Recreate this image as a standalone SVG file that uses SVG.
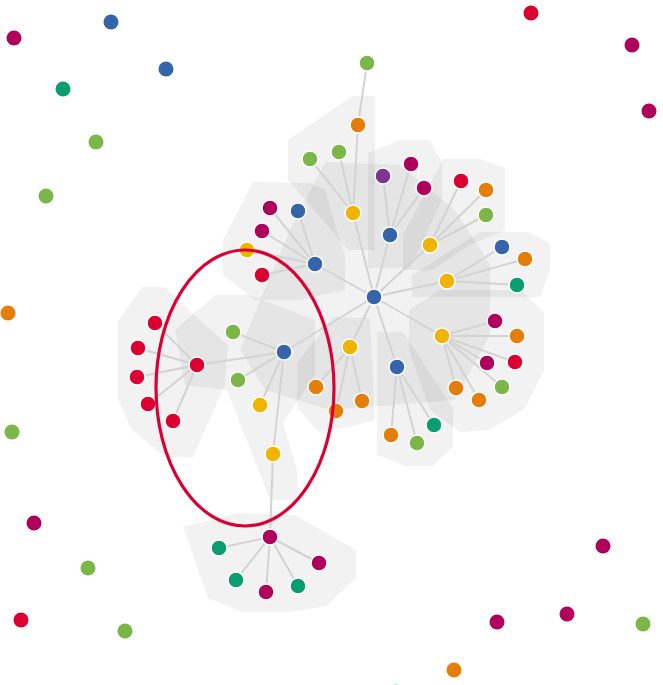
<svg xmlns="http://www.w3.org/2000/svg" width="663" height="685" viewBox="0 0 663 685">
<style>
.hull{fill:#000;fill-opacity:0.05;stroke:none}
.e{stroke:#d3d3d3;stroke-width:2;fill:none}
.n{stroke:#fff;stroke-width:1.5}
.s{stroke:none}
.R{fill:#dc0032}.M{fill:#af005c}.B{fill:#3465aa}.G{fill:#7ab648}.T{fill:#0a9e6e}.O{fill:#e57d0a}.Y{fill:#f0b400}.P{fill:#7d3591}
</style>
<rect width="663" height="685" fill="#fff"/>
<g id="hulls">
<polygon class="hull" points="325,162 400,165 455,210 490,265 490,335 455,400 330,410 265,390 240,350 260,300 290,230"/>
<polygon class="hull" points="288,140 352,96 375,96 375,250 348,250 288,180"/>
<polygon class="hull" points="368,153 400,140 430,140 442,162 442,200 410,268 368,268"/>
<polygon class="hull" points="443,159 480,159 505,168 505,230 470,245 432,270 403,270 403,235"/>
<polygon class="hull" points="412,275 480,232 528,232 550,243 550,270 540,297 412,297"/>
<polygon class="hull" points="223,240 253,182 310,183 325,190 345,257 345,290 300,300 255,300 223,275"/>
<polygon class="hull" points="215,295 250,295 315,320 315,375 283,423 297,470 297,500 270,500 227,390 185,385 175,330"/>
<polygon class="hull" points="118,322 142,287 165,287 200,320 228,345 225,385 193,457 165,457 132,430 118,400"/>
<polygon class="hull" points="297,363 333,317 370,318 375,420 350,427 318,432 297,407"/>
<polygon class="hull" points="377,332 403,332 453,408 453,447 433,466 405,466 377,455"/>
<polygon class="hull" points="409,310 440,290 520,290 544,312 544,370 525,408 490,430 460,432 430,410 409,350"/>
<polygon class="hull" points="183,527 237,513 295,515 356,550 356,578 326,606 290,612 242,612 208,598"/>
</g>
<g id="connectors">
<path class="e" d="M374,297L353,213M353,213L358,125M358,125L367,63M353,213L310,159M353,213L339,152"/>
<path class="e" d="M374,297L390,235M390,235L383,176M390,235L411,164M390,235L424,188"/>
<path class="e" d="M374,297L430,245M430,245L461,181M430,245L486,190M430,245L486,215"/>
<path class="e" d="M374,297L447,281M447,281L502,247M447,281L525,259M447,281L517,285"/>
<path class="e" d="M374,297L315,264M315,264L270,208M315,264L298,211M315,264L262,231M315,264L247,250M315,264L262,275"/>
<path class="e" d="M374,297L284,352M284,352L233,332M284,352L238,380M284,352L260,405M284,352L273,454M273,454L270,537"/>
<path class="e" d="M270,537L219,548M270,537L236,580M270,537L266,592M270,537L298,586M270,537L319,563"/>
<path class="e" d="M284,352L197,365M197,365L155,323M197,365L138,348M197,365L137,377M197,365L148,404M197,365L173,421"/>
<path class="e" d="M374,297L350,347M350,347L316,387M350,347L336,411M350,347L362,401"/>
<path class="e" d="M374,297L397,367M397,367L391,435M397,367L417,443M397,367L434,425"/>
<path class="e" d="M374,297L442,336M442,336L495,321M442,336L517,336M442,336L487,363M442,336L515,362M442,336L502,387M442,336L456,388M442,336L479,400"/>
</g>
<g id="scattered">
<circle class="s M" cx="14" cy="38" r="7.5"/>
<circle class="s B" cx="111" cy="22" r="7.5"/>
<circle class="s B" cx="166" cy="69" r="7.5"/>
<circle class="s T" cx="63" cy="89" r="7.5"/>
<circle class="s G" cx="96" cy="142" r="7.5"/>
<circle class="s G" cx="46" cy="196" r="7.5"/>
<circle class="s O" cx="8" cy="313" r="7.5"/>
<circle class="s G" cx="12" cy="432" r="7.5"/>
<circle class="s M" cx="34" cy="523" r="7.5"/>
<circle class="s G" cx="88" cy="568" r="7.5"/>
<circle class="s R" cx="21" cy="620" r="7.5"/>
<circle class="s G" cx="125" cy="631" r="7.5"/>
<circle class="s R" cx="531" cy="13" r="7.5"/>
<circle class="s M" cx="632" cy="45" r="7.5"/>
<circle class="s M" cx="649" cy="111" r="7.5"/>
<circle class="s M" cx="603" cy="546" r="7.5"/>
<circle class="s M" cx="567" cy="614" r="7.5"/>
<circle class="s M" cx="497" cy="622" r="7.5"/>
<circle class="s G" cx="643" cy="624" r="7.5"/>
<circle class="s O" cx="454" cy="670" r="7.5"/>
<circle class="s G" cx="396" cy="692" r="7.5"/>
</g>
<g id="nodes">
<g id="hub"><circle class="n B" cx="374" cy="297" r="8"/></g>
<g id="y1"><circle class="n Y" cx="353" cy="213" r="8"/></g>
<g id="o1"><circle class="n O" cx="358" cy="125" r="8"/></g>
<g id="g1"><circle class="n G" cx="367" cy="63" r="8"/></g>
<g id="g2"><circle class="n G" cx="310" cy="159" r="8"/></g>
<g id="g3"><circle class="n G" cx="339" cy="152" r="8"/></g>
<g id="b1"><circle class="n B" cx="390" cy="235" r="8"/></g>
<g id="p1"><circle class="n P" cx="383" cy="176" r="8"/></g>
<g id="m1"><circle class="n M" cx="411" cy="164" r="8"/></g>
<g id="m2"><circle class="n M" cx="424" cy="188" r="8"/></g>
<g id="y2"><circle class="n Y" cx="430" cy="245" r="8"/></g>
<g id="r1"><circle class="n R" cx="461" cy="181" r="8"/></g>
<g id="o2"><circle class="n O" cx="486" cy="190" r="8"/></g>
<g id="g4"><circle class="n G" cx="486" cy="215" r="8"/></g>
<g id="y3"><circle class="n Y" cx="447" cy="281" r="8"/></g>
<g id="b2"><circle class="n B" cx="502" cy="247" r="8"/></g>
<g id="o3"><circle class="n O" cx="525" cy="259" r="8"/></g>
<g id="t1"><circle class="n T" cx="517" cy="285" r="8"/></g>
<g id="b3"><circle class="n B" cx="315" cy="264" r="8"/></g>
<g id="m3"><circle class="n M" cx="270" cy="208" r="8"/></g>
<g id="b4"><circle class="n B" cx="298" cy="211" r="8"/></g>
<g id="m4"><circle class="n M" cx="262" cy="231" r="8"/></g>
<g id="y4"><circle class="n Y" cx="247" cy="250" r="8"/></g>
<g id="r2"><circle class="n R" cx="262" cy="275" r="8"/></g>
<g id="b5"><circle class="n B" cx="284" cy="352" r="8"/></g>
<g id="g5"><circle class="n G" cx="233" cy="332" r="8"/></g>
<g id="g6"><circle class="n G" cx="238" cy="380" r="8"/></g>
<g id="y5"><circle class="n Y" cx="260" cy="405" r="8"/></g>
<g id="y6"><circle class="n Y" cx="273" cy="454" r="8"/></g>
<g id="m5"><circle class="n M" cx="270" cy="537" r="8"/></g>
<g id="t2"><circle class="n T" cx="219" cy="548" r="8"/></g>
<g id="t3"><circle class="n T" cx="236" cy="580" r="8"/></g>
<g id="m6"><circle class="n M" cx="266" cy="592" r="8"/></g>
<g id="t4"><circle class="n T" cx="298" cy="586" r="8"/></g>
<g id="m7"><circle class="n M" cx="319" cy="563" r="8"/></g>
<g id="r3"><circle class="n R" cx="197" cy="365" r="8"/></g>
<g id="r4"><circle class="n R" cx="155" cy="323" r="8"/></g>
<g id="r5"><circle class="n R" cx="138" cy="348" r="8"/></g>
<g id="r6"><circle class="n R" cx="137" cy="377" r="8"/></g>
<g id="r7"><circle class="n R" cx="148" cy="404" r="8"/></g>
<g id="r8"><circle class="n R" cx="173" cy="421" r="8"/></g>
<g id="y7"><circle class="n Y" cx="350" cy="347" r="8"/></g>
<g id="o4"><circle class="n O" cx="316" cy="387" r="8"/></g>
<g id="o5"><circle class="n O" cx="336" cy="411" r="8"/></g>
<g id="o6"><circle class="n O" cx="362" cy="401" r="8"/></g>
<g id="b6"><circle class="n B" cx="397" cy="367" r="8"/></g>
<g id="o7"><circle class="n O" cx="391" cy="435" r="8"/></g>
<g id="g7"><circle class="n G" cx="417" cy="443" r="8"/></g>
<g id="t5"><circle class="n T" cx="434" cy="425" r="8"/></g>
<g id="y8"><circle class="n Y" cx="442" cy="336" r="8"/></g>
<g id="m8"><circle class="n M" cx="495" cy="321" r="8"/></g>
<g id="o8"><circle class="n O" cx="517" cy="336" r="8"/></g>
<g id="m9"><circle class="n M" cx="487" cy="363" r="8"/></g>
<g id="r9"><circle class="n R" cx="515" cy="362" r="8"/></g>
<g id="g8"><circle class="n G" cx="502" cy="387" r="8"/></g>
<g id="o9"><circle class="n O" cx="456" cy="388" r="8"/></g>
<g id="o10"><circle class="n O" cx="479" cy="400" r="8"/></g>
</g>
<g id="highlight">
<ellipse cx="245" cy="388" rx="89" ry="138" fill="none" stroke="#dc0032" stroke-width="3.2"/>
</g>
</svg>
